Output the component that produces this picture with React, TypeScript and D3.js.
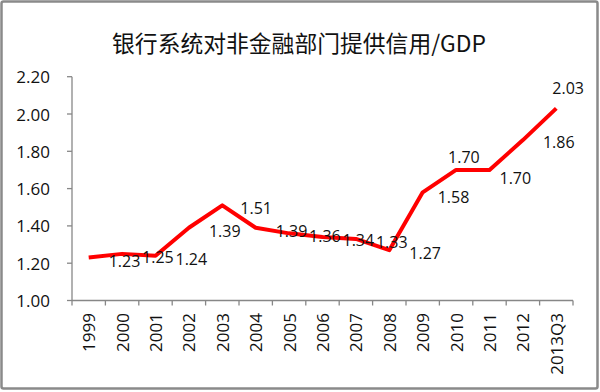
import React from "react";
import * as d3 from "d3";

const categories = ["1999","2000","2001","2002","2003","2004","2005","2006","2007","2008","2009","2010","2011","2012","2013Q3"];
const values = [1.23,1.25,1.24,1.39,1.51,1.39,1.36,1.34,1.33,1.27,1.58,1.70,1.70,1.86,2.03];
const yTicks = [1.0,1.2,1.4,1.6,1.8,2.0,2.2];
const title = "银行系统对非金融部门提供信用/GDP";

// label placement (left-edge dx, center dy) in px
const labelDx = [20,20,20,20,18,20,20,20,20,20,15,-8,10,20,-4];
const labelDy = [3,3,3,3,3,3,3,3,3,3,5,-13,8,2,-20];

const W = 600, H = 392;
const M = { left: 72, right: 573, top: 76.7, bottom: 300.5 };

export default function App() {
  const x = d3.scaleBand<string>().domain(categories).range([M.left, M.right]);
  const y = d3.scaleLinear().domain([1.0, 2.2]).range([M.bottom, M.top]);
  const line = d3.line<number>()
    .x((_, i) => (x(categories[i]) as number) + x.bandwidth() / 2)
    .y((d) => y(d));
  const font = "'Open Sans', sans-serif";
  const axisColor = "#878787";
  const boundaries = categories.map((c) => x(c) as number).concat([M.right]);
  return (
    <svg width={W} height={H} style={{ position: "absolute", left: 0, top: 0, display: "block" }}>
      <rect x={0} y={0} width={W} height={H} fill="#ffffff" />
      <rect x={1.5} y={1.5} width={596} height={387} fill="none" stroke="#8a8a8a" strokeWidth={2.5} rx={2} />
      <text x={299} y={42} textAnchor="middle" dominantBaseline="central" fontFamily="'Noto Sans CJK SC', sans-serif" fontSize={22.8} fill="#111">{title}</text>
      {/* y axis */}
      <line x1={M.left} x2={M.left} y1={M.top} y2={M.bottom} stroke={axisColor} strokeWidth={1.3} />
      {yTicks.map((t) => (
        <g key={t}>
          <line x1={M.left - 5} x2={M.left} y1={y(t)} y2={y(t)} stroke={axisColor} strokeWidth={1.3} />
          <text x={50} y={y(t)} textAnchor="end" dominantBaseline="central" fontFamily={font} fontSize={17} fill="#111">{t.toFixed(2)}</text>
        </g>
      ))}
      {/* x axis */}
      <line x1={M.left} x2={M.right} y1={M.bottom} y2={M.bottom} stroke={axisColor} strokeWidth={1.3} />
      {boundaries.map((b, i) => (
        <line key={i} x1={b} x2={b} y1={M.bottom} y2={M.bottom + 5} stroke={axisColor} strokeWidth={1.3} />
      ))}
      {categories.map((c) => {
        const cx = (x(c) as number) + x.bandwidth() / 2;
        return (
          <text key={c} transform={`translate(${cx},313) rotate(-90)`} textAnchor="end" dominantBaseline="central" fontFamily={font} fontSize={17} fill="#111">{c}</text>
        );
      })}
      <path d={line(values) || ""} fill="none" stroke="#ff0000" strokeWidth={4} strokeLinejoin="round" strokeLinecap="butt" />
      {values.map((v, i) => {
        const cx = (x(categories[i]) as number) + x.bandwidth() / 2;
        return (
          <text key={i} x={cx + labelDx[i]} y={y(v) + labelDy[i]} dominantBaseline="central" fontFamily={font} fontSize={16} fill="#111">{v.toFixed(2)}</text>
        );
      })}
    </svg>
  );
}
